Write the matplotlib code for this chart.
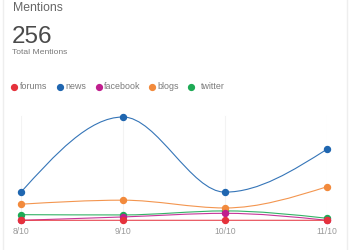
import matplotlib
matplotlib.use("Agg")
import matplotlib.pyplot as plt
import numpy as np
from matplotlib.path import Path
from matplotlib.patches import PathPatch
from matplotlib.lines import Line2D

plt.rcParams['font.family'] = ['Liberation Sans', 'DejaVu Sans']

# 数据
dates = ["8/10", "9/10", "10/10", "11/10"]
forums = [0, 0, 0, 0]
news = [21, 77, 21, 53]
facebook = [0, 2.5, 5.2, 0]
blogs = [12, 15, 9.2, 25]
twitter = [4.2, 4, 7, 1.5]

series_names = ["forums", "news", "facebook", "blogs", "twitter"]
series_values = [forums, news, facebook, blogs, twitter]
colors = ["#e5323c", "#1f66b0", "#c01f8e", "#f28a3c", "#1eaa55"]
total = 256


def monotone_tangents(x, y):
    """d3 curveMonotoneX 风格的切线"""
    x = np.asarray(x, float)
    y = np.asarray(y, float)
    n = len(x)
    t = np.zeros(n)
    for i in range(1, n - 1):
        h0 = x[i] - x[i - 1]
        h1 = x[i + 1] - x[i]
        s0 = (y[i] - y[i - 1]) / h0
        s1 = (y[i + 1] - y[i]) / h1
        p = (s0 * h1 + s1 * h0) / (h0 + h1)
        t[i] = (np.sign(s0) + np.sign(s1)) * min(abs(s0), abs(s1), 0.5 * abs(p))
    h = x[1] - x[0]
    t[0] = (3 * (y[1] - y[0]) / h - t[1]) / 2 if h else t[1]
    h = x[-1] - x[-2]
    t[-1] = (3 * (y[-1] - y[-2]) / h - t[-2]) / 2 if h else t[-2]
    return t


def smooth_path(x, y):
    t = monotone_tangents(x, y)
    verts = [(x[0], y[0])]
    codes = [Path.MOVETO]
    for i in range(len(x) - 1):
        dx = (x[i + 1] - x[i]) / 3
        verts += [(x[i] + dx, y[i] + dx * t[i]),
                  (x[i + 1] - dx, y[i + 1] - dx * t[i + 1]),
                  (x[i + 1], y[i + 1])]
        codes += [Path.CURVE4] * 3
    return Path(verts, codes)


W, H = 350, 250
fig = plt.figure(figsize=(3.5, 2.5), dpi=100)
fig.patch.set_facecolor("white")

# 卡片边框
fig.add_artist(Line2D([2.5 / W, 2.5 / W], [0, 1], color="#eeeeee", lw=1))
fig.add_artist(Line2D([346.5 / W, 346.5 / W], [0, 1], color="#eeeeee", lw=1))

# 标题区
fig.text(12.5 / W, 1 - 10.8 / H, "Mentions", fontsize=8.8, color="#666666", va="baseline")
fig.text(11.5 / W, 1 - 42.7 / H, str(total), fontsize=17.5, color="#4a4a4a", va="baseline")
fig.text(12.5 / W, 1 - 54.2 / H, "Total Mentions", fontsize=6.1, color="#7a7a7a", va="baseline")

# 图例
dot_x = [14, 60, 98.5, 151.5, 190.5]
txt_x = [19.5, 65, 103.5, 157, 200.5]
for name, c, dx, tx in zip(series_names, colors, dot_x, txt_x):
    fig.add_artist(Line2D([dx / W], [1 - 86.5 / H], marker="o", markersize=4.2,
                          color=c, linestyle="none"))
    fig.text(tx / W, 1 - 86.5 / H, name, fontsize=6.4, color="#7a7a7a", va="center")

# 绘图区
x0, x1 = 21, 327
y_base = 220.3
ymax = 80
px_per_unit = 103.3 / 77
ax_h = ymax * px_per_unit
ax = fig.add_axes([x0 / W, 1 - y_base / H, (x1 - x0) / W, ax_h / H])
ax.set_xlim(0, 3)
ax.set_ylim(0, ymax)
ax.set_facecolor("none")
for s in ax.spines.values():
    s.set_visible(False)
ax.set_yticks([])
xs = np.arange(len(dates))
ax.set_xticks(xs)
ax.set_xticklabels(dates, fontsize=6.2, color="#9a9a9a")
ax.tick_params(axis="x", length=0, pad=5)
for xv in xs:
    ax.axvline(xv, color="#f3f3f3", lw=0.8, zorder=0, ymax=0.97, ymin=0)

# 绘制顺序：forums 在最上层
order = [4, 3, 2, 1, 0]
for z, i in enumerate(order):
    c = colors[i]
    vals = series_values[i]
    patch = PathPatch(smooth_path(xs, vals), facecolor="none", edgecolor=c,
                      lw=0.8, alpha=0.9, zorder=2 + z * 2, clip_on=False)
    ax.add_patch(patch)
    ax.plot(xs, vals, linestyle="none", marker="o", markersize=4.3, color=c,
            zorder=3 + z * 2, clip_on=False)

fig.savefig("out.png", dpi=100, facecolor="white")
